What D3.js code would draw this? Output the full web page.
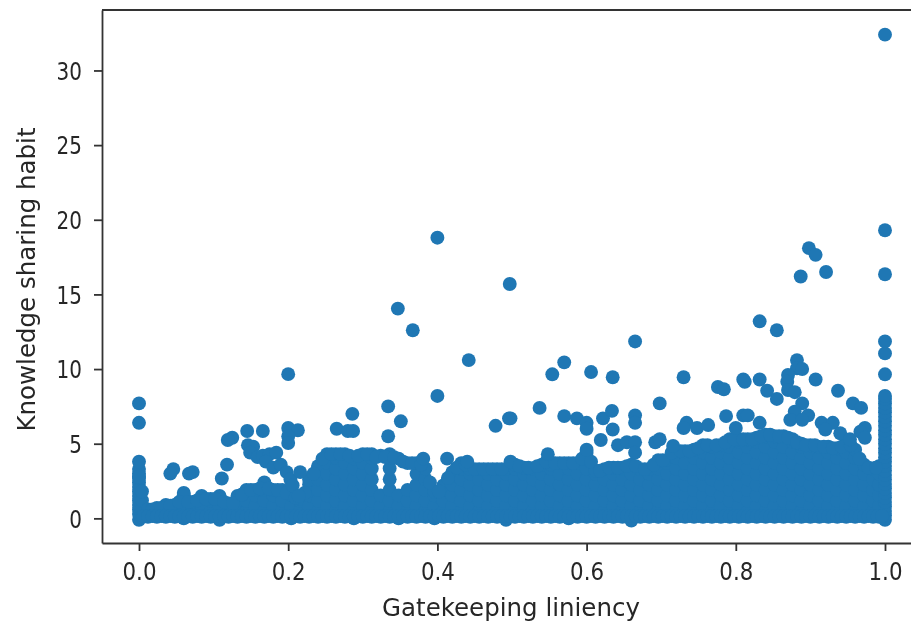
<!DOCTYPE html>
<html><head><meta charset="utf-8"><style>
html,body{margin:0;padding:0;background:#fff;overflow:hidden}
svg{display:block;filter:blur(0.6px)}
text{font-family:"DejaVu Sans",sans-serif;fill:#262626}
</style><script src="https://cdn.jsdelivr.net/npm/d3@7"></script></head><body><svg id="c" width="911" height="623"></svg>
<script>
const xTicks=[0,0.2,0.4,0.6,0.8,1.0];
const yTicks=[0,5,10,15,20,25,30];
const xLabel="Gatekeeping liniency";
const yLabel="Knowledge sharing habit";
const sparseX=[1,1,1,0.4,0.497,0.347,0.367,0.898,0.907,0.921,0.887,0.832,0.855,
0,0,0,0,0.2,0.442,0.4,0.334,0.286,0.351,0.334,0.265,0.28,0.287,0.478,0.496,0.125,0.119,0.145,0.166,0.2,0.213,0.2,0.2,
0.146,0.153,0.149,0.159,0.166,0.175,0.184,0.17,0.18,0.19,0.198,0.203,0.206,0.214,0.118,0.111,0.046,0.042,0.072,0.067,0.216,0.381,0.413,
0.665,0.57,0.554,0.606,0.635,0.73,0.776,0.784,0.81,0.812,0.832,0.842,0.855,0.882,0.882,0.889,0.87,0.869,0.87,0.879,0.907,0.937,0.957,0.968,1,1,1,0.698,0.537,0.498,
0.57,0.587,0.6,0.6,0.622,0.634,0.635,0.619,0.665,0.665,0.642,0.654,0.665,0.665,0.692,0.698,0.716,0.6,0.548,0.734,0.73,0.748,0.763,0.787,0.81,0.816,0.832,0.8,
0.889,0.879,0.873,0.897,0.889,0.915,0.93,0.92,0.94,0.973,0.967,0.973,0.953,0.44];
const sparseY=[32.4,19.3,16.35,18.8,15.7,14.05,12.6,18.1,17.65,16.5,16.2,13.2,12.6,
7.7,6.4,3.8,2.8,9.66,10.6,8.2,7.5,7.0,6.5,5.5,6.0,5.85,5.85,6.2,6.7,5.4,5.25,5.85,5.85,6.05,5.9,5.5,5.05,
4.9,4.8,4.4,4.1,4.2,4.3,4.4,3.8,3.4,3.6,3.1,2.6,2.2,1.5,3.6,2.67,3.3,3.0,3.1,3.0,3.1,4.0,4.0,
11.85,10.45,9.65,9.8,9.45,9.45,8.8,8.65,9.3,9.15,9.3,8.55,8.0,10.6,10.05,10.0,9.6,9.15,8.6,8.45,9.3,8.55,7.7,7.4,9.65,11.05,11.85,7.7,7.4,6.7,
6.85,6.7,6.4,6.0,6.7,7.2,5.95,5.25,6.9,6.4,4.9,5.1,5.1,4.4,5.1,5.3,4.85,4.6,4.3,6.4,6.05,6.05,6.25,6.85,6.9,6.9,6.4,6.05,
7.7,7.15,6.6,6.9,6.6,6.4,6.4,5.95,5.7,6.05,5.8,5.4,5.3,3.8];
const bandX=[0,0.004,0.012,0.024,0.036,0.048,0.06,0.072,0.084,0.096,0.108,0.12,0.132,0.144,0.156,0.168,0.18,0.192,0.204,0.216,0.228,0.24,0.252,0.264,0.276,0.288,0.3,0.312,0.324,0.336,0.348,0.36,0.372,0.384,0.396,0.408,0.42,0.432,0.444,0.456,0.468,0.48,0.492,0.504,0.516,0.528,0.54,0.552,0.564,0.576,0.588,0.6,0.612,0.624,0.636,0.648,0.66,0.672,0.684,0.696,0.708,0.72,0.732,0.744,0.756,0.768,0.78,0.792,0.804,0.816,0.828,0.84,0.852,0.864,0.876,0.888,0.9,0.912,0.924,0.936,0.948,0.96,0.972,0.984,0.992,1];
const bandY=[
[-0.1,0.3,0.6,0.9,1.2,1.5,1.8,2.1,2.4,2.7,3.0,3.3],[0.1,0.6,1.2,1.8],
[0.1,0.6],[0.1,0.46,0.7],[0.1,0.82,0.9],[0.1,0.46,0.9],[0,0.82,1.54,1.7],[0.1,0.46,1.1],[0.1,0.82,1.5],[0.1,0.46,1.18,1.3],[-0.1,0.82,1.5],[0.1,0.46,1],
[0.1,0.82,1.5],[0.1,0.46,1.18,1.9],[0.1,0.82,1.54,1.9],[0.1,0.46,1.18,1.9,2.4],[0.1,0.82,1.54,1.9],[0.1,0.46,1.18,1.9],[0,0.82,1.54,1.6],[0.1,0.46,1.18,1.3],
[0.1,0.82,1.54,2.26,2.6],[0.1,0.46,1.18,1.9,2.62,3.34,3.5],[0.1,0.82,1.54,2.26,2.98,3.7,4.3],[0.1,0.46,1.18,1.9,2.62,3.34,4.06,4.3],[0.1,0.82,1.54,2.26,2.98,3.7,4.3],[0,0.46,1.18,1.9,2.62,3.34,4.0],[0.1,0.82,1.54,2.26,2.98,3.7,4.3],[0.1,0.46,1.18,1.9,2.62,3.34,4.06,4.3],[0.1,0.82,1.54,4.2],[0.1,0.46,1.18,1.9,2.62,3.34,4.06,4.3],[0,0.82,1.54,4.0],[0.1,0.46,1.18,1.9,3.7],[0.1,0.82,1.54,2.26,2.98,3.7],[0.1,0.46,1.18,1.9,2.62,3.34],[0,0.82,1.54,1.8],[0.1,0.46,1.18,1.9,2.2],
[0.1,0.82,1.54,2.26,2.98,3.1],[0.1,0.46,1.18,1.9,2.62,3.34,3.7],[0.1,0.82,1.54,2.26,2.98,3.3],[0.1,0.46,1.18,1.9,2.62,3.3],[0.1,0.82,1.54,2.26,2.98,3.3],[0.1,0.46,1.18,1.9,2.62,3.3],[-0.1,0.82,1.54,2.26,2.98,3.3],[0.1,0.46,1.18,1.9,2.62,3.34,3.6],[0.1,0.82,1.54,2.26,2.98,3.4],[0.1,0.46,1.18,1.9,2.62,3.34],
[0.1,0.82,1.54,2.26,2.98,3.6],[0.1,0.46,1.18,1.9,2.62,3.34,3.6],[0.1,0.82,1.54,2.26,2.98,3.7],[0,0.46,1.18,1.9,2.62,3.34,3.7],[0.1,0.82,1.54,2.26,2.98,3.7],[0.1,0.46,1.18,1.9,2.62,3.34,4.06,4.4],[0.1,0.82,1.54,2.26,2.98,3.2],[0.1,0.46,1.18,1.9,2.62,3.3],[0.1,0.82,1.54,2.26,2.98,3.4],[0.1,0.46,1.18,1.9,2.62,3.34,3.4],[-0.15,0.82,1.54,2.26,2.98,3.6],[0.1,0.46,1.18,1.9,2.62,3.3],[0.1,0.82,1.54,2.26,2.98,3.3],
[0.1,0.46,1.18,1.9,2.62,3.34,3.9],[0.1,0.82,1.54,2.26,2.98,3.7,3.9],[0.1,0.46,1.18,1.9,2.62,3.34,4.06,4.5],[0.1,0.82,1.54,2.26,2.98,3.7,4.5],[0.1,0.46,1.18,1.9,2.62,3.34,4.06,4.6],[0.1,0.82,1.54,2.26,2.98,3.7,4.42,4.9],[0.1,0.46,1.18,1.9,2.62,3.34,4.06,4.8],[0.1,0.82,1.54,2.26,2.98,3.7,4.42,4.9],[0.1,0.46,1.18,1.9,2.62,3.34,4.06,4.78,5.3],[0.1,0.82,1.54,2.26,2.98,3.7,4.42,5.14,5.3],[0.1,0.46,1.18,1.9,2.62,3.34,4.06,4.78,5.3],[0.1,0.82,1.54,2.26,2.98,3.7,4.42,5.14,5.4],[0.1,0.46,1.18,1.9,2.62,3.34,4.06,4.78,5.5,5.6],[0.1,0.82,1.54,2.26,2.98,3.7,4.42,5.14,5.5],[0.1,0.46,1.18,1.9,2.62,3.34,4.06,4.78,5.5],[0.1,0.82,1.54,2.26,2.98,3.7,4.42,5.14,5.3],[0.1,0.46,1.18,1.9,2.62,3.34,4.06,4.78,5],[0.1,0.82,1.54,2.26,2.98,3.7,4.42,4.9],[0.1,0.46,1.18,1.9,2.62,3.34,4.06,4.78],[0.1,0.82,1.54,2.26,2.98,3.7,4.42,4.8],[0.1,0.46,1.18,1.9,2.62,3.34,4.06,4.7],[0.1,0.82,1.54,2.26,2.98,3.7,4.42,5],[0.1,0.46,1.18,1.9,2.62,3.34,4.06,4.6],[0.1,0.82,1.54,2.26,2.98,3.6],[0.1,0.46,1.18,1.9,2.62,3.34],[0.1,0.82,1.54,2.26,2.98,3.5],
[-0.1,0.2,0.5,0.8,1.1,1.4,1.7,2,2.3,2.6,2.9,3.2,3.5,3.8,4.1,4.4,4.7,5,5.3,5.6,5.9,6.2,6.5,6.8,7.1,7.4,7.7,8,8.2]];
const crestX=[0.018,0.03,0.042,0.054,0.066,0.078,0.09,0.102,0.114,0.126,0.138,0.15,0.162,0.174,0.186,0.198,0.21,0.222,0.234,0.246,0.258,0.27,0.282,0.294,0.306,0.318,0.33,0.342,0.354,0.366,0.378,0.39,0.402,0.414,0.426,0.438,0.45,0.462,0.474,0.486,0.498,0.51,0.522,0.534,0.546,0.558,0.57,0.582,0.594,0.606,0.618,0.63,0.642,0.654,0.666,0.678,0.69,0.702,0.714,0.726,0.738,0.75,0.762,0.774,0.786,0.798,0.81,0.822,0.834,0.846,0.858,0.87,0.882,0.894,0.906,0.918,0.93,0.942,0.954,0.966,0.978,0.988];
const crestY=[0.6,0.7,0.85,1.1,1.1,1.2,1.3,1.3,1.1,1.0,1.6,1.9,2.0,2.0,1.9,1.7,1.4,1.7,3.0,4.0,4.3,4.3,4.2,4.2,4.3,4.1,4.1,4.1,3.8,3.7,3.6,2.4,1.8,2.7,3.4,3.6,3.3,3.3,3.3,3.3,3.8,3.5,3.4,3.5,3.8,3.7,3.7,3.7,4.0,3.8,3.2,3.4,3.4,3.5,3.5,3.3,3.6,3.9,4.4,4.5,4.5,4.7,4.9,4.9,5.1,5.3,5.3,5.3,5.5,5.6,5.5,5.4,5.1,4.9,4.9,4.8,4.7,4.8,4.9,4.0,3.4,3.4];
const floorX=[0.006,0.012,0.018,0.024,0.03,0.036,0.042,0.048,0.054,0.06,0.066,0.072,0.078,0.084,0.09,0.096,0.102,0.108,0.114,0.12,0.126,0.132,0.138,0.144,0.15,0.156,0.162,0.168,0.174,0.18,0.186,0.192,0.198,0.204,0.21,0.216,0.222,0.228,0.234,0.24,0.246,0.252,0.258,0.264,0.27,0.276,0.282,0.288,0.294,0.3,0.306,0.312,0.318,0.324,0.33,0.336,0.342,0.348,0.354,0.36,0.366,0.372,0.378,0.384,0.39,0.396,0.402,0.408,0.414,0.42,0.426,0.432,0.438,0.444,0.45,0.456,0.462,0.468,0.474,0.48,0.486,0.492,0.498,0.504,0.51,0.516,0.522,0.528,0.534,0.54,0.546,0.552,0.558,0.564,0.57,0.576,0.582,0.588,0.594,0.6,0.606,0.612,0.618,0.624,0.63,0.636,0.642,0.648,0.654,0.66,0.666,0.672,0.678,0.684,0.69,0.696,0.702,0.708,0.714,0.72,0.726,0.732,0.738,0.744,0.75,0.756,0.762,0.768,0.774,0.78,0.786,0.792,0.798,0.804,0.81,0.816,0.822,0.828,0.834,0.84,0.846,0.852,0.858,0.864,0.87,0.876,0.882,0.888,0.894,0.9,0.906,0.912,0.918,0.924,0.93,0.936,0.942,0.948,0.954,0.96,0.966,0.972,0.978,0.984,0.99,0.996];
const floorLevel=0.15;
const W=911,H=623,L=102,R=922,T=10,B=543;
const x=d3.scaleLinear().domain([-0.0496,1.0496]).range([L,R]);
const y=d3.scaleLinear().domain([-1.65,34.05]).range([B,T]);
const svg=d3.select("#c");
const pts=[];
bandX.forEach((v,i)=>bandY[i].forEach(w=>pts.push([v,w])));
crestX.forEach((v,i)=>pts.push([v,crestY[i]]));
floorX.forEach(v=>pts.push([v,floorLevel]));
sparseX.forEach((v,i)=>pts.push([v,sparseY[i]]));
svg.append("g").selectAll("circle").data(pts).join("circle")
 .attr("cx",d=>x(d[0])).attr("cy",d=>y(d[1])).attr("r",6.95).attr("fill","#1f77b4");
const fs="24.5px";
const gx=svg.append("g").attr("transform",`translate(0,${B})`)
 .call(d3.axisBottom(x).tickValues(xTicks).tickFormat(d3.format(".1f")).tickSize(8).tickSizeOuter(0));
const gy=svg.append("g").attr("transform",`translate(${L},0)`)
 .call(d3.axisLeft(y).tickValues(yTicks).tickFormat(d3.format("d")).tickSize(8).tickSizeOuter(0));
[gx,gy].forEach(g=>{g.attr("font-size",null).attr("font-family",null);
 g.selectAll("text").style("font-size",fs).attr("fill","#262626").attr("lengthAdjust","spacingAndGlyphs");
 g.selectAll("line,path").attr("stroke","#333").attr("stroke-width",1.8);});
gx.selectAll("text").attr("y",37).attr("dy",0).attr("textLength",34);
gy.selectAll("text").attr("x",-20).attr("dy","0.36em").attr("textLength",d=>String(d).length*12.7);
svg.append("line").attr("x1",L).attr("x2",R).attr("y1",T).attr("y2",T).attr("stroke","#333").attr("stroke-width",1.8);
svg.append("text").attr("x",511).attr("y",615.5).attr("text-anchor","middle").style("font-size",fs).text(xLabel);
svg.append("text").attr("transform","translate(35,279.5) rotate(-90)").attr("text-anchor","middle").style("font-size",fs).text(yLabel);
</script></body></html>
